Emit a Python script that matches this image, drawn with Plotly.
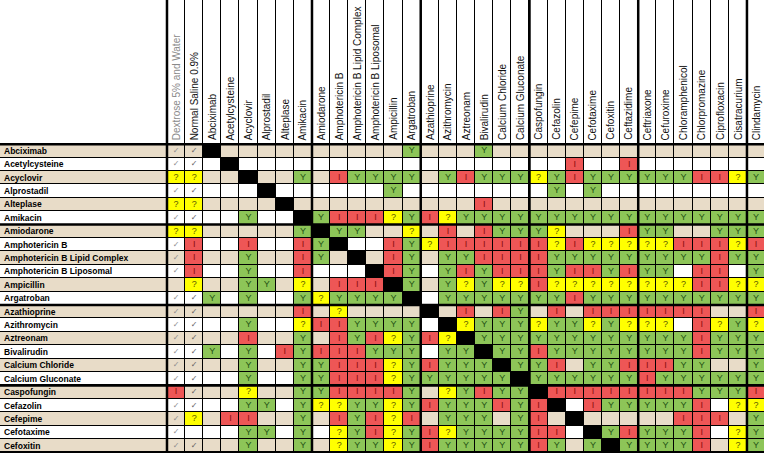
import plotly.graph_objects as go

# ---------------- data ----------------
row_drugs = [
    "Abciximab", "Acetylcysteine", "Acyclovir", "Alprostadil", "Alteplase", "Amikacin",
    "Amiodarone", "Amphotericin B", "Amphotericin B Lipid Complex", "Amphotericin B Liposomal",
    "Ampicillin", "Argatroban", "Azathioprine", "Azithromycin", "Aztreonam", "Bivalirudin",
    "Calcium Chloride", "Calcium Gluconate", "Caspofungin", "Cefazolin", "Cefepime",
    "Cefotaxime", "Cefoxitin",
]

col_labels = [
    "Dextrose 5% and Water", "Normal Saline 0.9%",
    "Abciximab", "Acetylcysteine", "Acyclovir", "Alprostadil", "Alteplase", "Amikacin",
    "Amiodarone", "Amphotericin B", "Amphotericin B Lipid Complex", "Amphotericin B Liposomal",
    "Ampicillin", "Argatroban", "Azathioprine", "Azithromycin", "Aztreonam", "Bivalirudin",
    "Calcium Chloride", "Calcium Gluconate", "Caspofungin", "Cefazolin", "Cefepime",
    "Cefotaxime", "Cefoxitin", "Ceftazidime", "Ceftriaxone", "Cefuroxime", "Chloramphenicol",
    "Chlorpromazine", "Ciprofloxacin", "Cisatracurium", "Clindamycin",
]

# one string per row: v = compatible with diluent (check), Y = compatible,
# I = incompatible, ? = uncertain, # = same drug, . = no data
compat = [
    "vv #..... .....Y ...Y.. ...... ...... .",
    "vv .#.... ...... ...... ..I..I ...... .",
    "?? ..#..Y .IYYYY .YIYYY ?YIYYY YYYII? Y",
    "vv ...#.. ....Y. ...... .Y.Y.. ...... .",
    "?? ....#. ...... ...I.. ...... ...... .",
    "vv ..Y..# YIII?Y I?YYYY YYYYYY YYYYYY Y",
    "?? .....Y #YY..? .I.IYY Y?...I YY..YY Y",
    "vI ..I..I Y#..IY ?IIIII I?I??? ??III? I",
    "vI ..Y..I Y.#.IY .YYIII IYYYYY YYYYIY Y",
    "vI ..Y..I ...#IY .YIYII IYIIYI YY.II. Y",
    ".? ..YY.? .III#Y .Y?Y?? I????? ???II? ?",
    "vv Y.Y..Y ?YYYY# .YYYYY YYIYYY YYYYYY Y",
    "vv .....I .?.... #.I.IY .I.III IIII.. I",
    "vv ..Y..? IIYYYY .#?YYY ?YY?Y? ??.I?Y ?",
    "vv ..I..Y .IYI?Y I?#YYY YYYYYY YYYIYY Y",
    "vv Y.Y.IY IIIYYY .YY#YY IYYYYY YYYIYY Y",
    "vv ..Y..Y YIII?Y IYYY#Y YI.YYI IIYY.. Y",
    "vv ..Y..Y YIII?Y YYYYY# YYYYYY IYYYYY Y",
    "Iv ..?..Y YIIIIY .?YIYY #IIIII IIIYYY I",
    "vv ..YY.Y ??YY?Y IYYYIY I#.IYY YYYI.? ?",
    "v? .II..Y .IYI?I .YYY.Y I.#... ..III. Y",
    "v. ..YY.Y .?YI?Y I?YYYY II.#YI YYYI.? Y",
    "vv ..Y..Y .?YY?Y IYYYYY IY.Y#Y YYYI.? Y",
]

# ---------------- style ----------------
WHITE, TAN, GREEN, RED, YELLOW, BLACK = "#FFFFFF", "#E8DCC8", "#8DC558", "#EE5656", "#FFFF00", "#000000"
palette = [WHITE, TAN, GREEN, RED, YELLOW, BLACK]
code_of = {"Y": 2, "I": 3, "?": 4, "#": 5}
text_color = {"Y": "#235214", "I": "#8A0C0C", "?": "#5A5A00"}
GROUP = 6

n_rows = len(row_drugs)
n_cols = len(col_labels)
rows = [s.replace(" ", "") for s in compat]

LABEL_W = 9.214      # width of the name column, in cell widths
HEADER_H = 10.76     # height of the header, in cell heights
X_RIGHT = 32.44
Y_BOTTOM = 22.545

x_edges = [-0.5 - LABEL_W] + [c - 0.5 for c in range(n_cols + 1)]
y_edges = [-0.5 - HEADER_H] + [r - 0.5 for r in range(n_rows + 1)]

z = [[0] * (n_cols + 1)]
for r, s in enumerate(rows):
    bg = 1 if r % 2 == 0 else 0
    z.append([bg] + [code_of.get(ch, bg) for ch in s])

cs = []
n = len(palette)
for k, col in enumerate(palette):
    cs.append([k / n, col])
    cs.append([(k + 1) / n, col])

fig = go.Figure()
fig.add_trace(go.Heatmap(
    x=x_edges, y=y_edges, z=z, colorscale=cs, zmin=-0.5, zmax=n - 0.5,
    showscale=False, xgap=1, ygap=1, hoverinfo="skip",
))

# cell symbols
for sym in ["Y", "I", "?"]:
    xs, ys = [], []
    for r, s in enumerate(rows):
        for c, ch in enumerate(s):
            if ch == sym:
                xs.append(c)
                ys.append(r)
    fig.add_trace(go.Scatter(
        x=xs, y=ys, mode="text", text=[sym] * len(xs),
        textfont=dict(family="Liberation Sans, Arial", size=9, color=text_color[sym]),
        hoverinfo="skip", showlegend=False,
    ))

xs, ys, cols = [], [], []
for r, s in enumerate(rows):
    for c, ch in enumerate(s):
        if ch == "v":
            xs.append(c)
            ys.append(r)
            cols.append("#8C8C8C" if c == 0 else "#5E5E5E")
fig.add_trace(go.Scatter(
    x=xs, y=ys, mode="text", text=["✓"] * len(xs),
    textfont=dict(family="DejaVu Sans", size=8, color=cols),
    hoverinfo="skip", showlegend=False,
))

# thick group lines
vlines = [-0.5] + [1.5 + GROUP * (k + 1) for k in range((n_cols - 2) // GROUP)]
hlines = [-0.5] + [-0.5 + GROUP * (k + 1) for k in range((n_rows - 1) // GROUP)]
for xv in vlines:
    fig.add_shape(type="line", xref="x", yref="y", x0=xv, x1=xv,
                  y0=y_edges[0], y1=y_edges[-1] + 1, line=dict(color="black", width=2.5))
for yv in hlines:
    fig.add_shape(type="line", xref="x", yref="y", x0=x_edges[0], x1=X_RIGHT + 1,
                  y0=yv, y1=yv, line=dict(color="black", width=2.5))

# header labels
for c, lab in enumerate(col_labels):
    fig.add_annotation(
        x=c, y=-0.5, xref="x", yref="y", text=lab, textangle=-90, showarrow=False,
        xanchor="center", yanchor="bottom", yshift=2,
        font=dict(family="Liberation Sans, Arial", size=10,
                  color="#8A8A8A" if c == 0 else "#111111"),
    )

# row labels
for r, lab in enumerate(row_drugs):
    fig.add_annotation(
        x=x_edges[0], y=r, xref="x", yref="y", text="<b>" + lab + "</b>", showarrow=False,
        xanchor="left", yanchor="middle", xshift=2,
        font=dict(family="Liberation Sans, Arial", size=8.5, color="#000000"),
    )

fig.update_layout(
    width=764, height=453, margin=dict(l=0, r=0, t=0, b=0),
    paper_bgcolor="white", plot_bgcolor="black", showlegend=False,
    xaxis=dict(range=[x_edges[0], X_RIGHT], visible=False, fixedrange=True),
    yaxis=dict(range=[Y_BOTTOM, y_edges[0]], visible=False, fixedrange=True),
)

fig.write_html(
    "out.html",
    config={"displayModeBar": False},
    post_script="document.body.style.margin='0px';document.body.style.overflow='hidden';",
)
